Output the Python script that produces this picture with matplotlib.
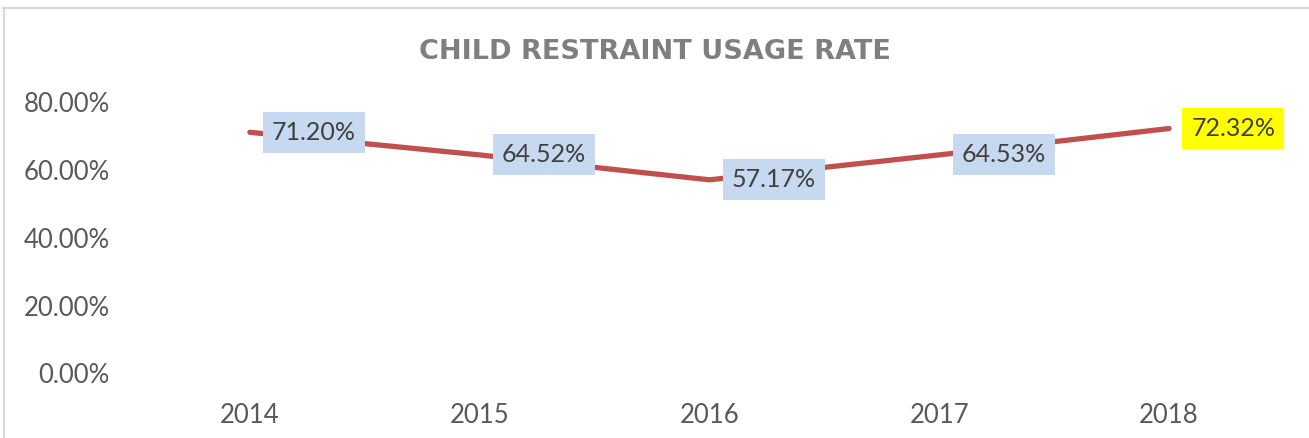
import matplotlib
matplotlib.use("Agg")
import matplotlib.pyplot as plt
from matplotlib.lines import Line2D
from matplotlib.ticker import FuncFormatter

# chart data
years = ["2014", "2015", "2016", "2017", "2018"]
usage_rate = [71.20, 64.52, 57.17, 64.53, 72.32]
label_colors = ["#C6D9F1", "#C6D9F1", "#C6D9F1", "#C6D9F1", "#FFFF00"]
y_ticks = [0, 20, 40, 60, 80]

TITLE = "CHILD RESTRAINT USAGE RATE"


def pct(v, pos=None):
    return "{:.2f}%".format(v)


fig = plt.figure(figsize=(13.09, 4.38), dpi=100)
ax = fig.add_axes([0.1031, 0.1473, 0.8778, 0.6187])

x = list(range(len(years)))
ax.plot(x, usage_rate, color="#C0504D", linewidth=3.8, solid_capstyle="round")

# data labels sit to the right of each point
for i, v in enumerate(usage_rate):
    ax.annotate(pct(v), xy=(x[i], v), xytext=(16, 0), textcoords="offset points",
                ha="left", va="center", fontsize=18, family="Lato", color="#404040",
                bbox=dict(boxstyle="square,pad=0.36", fc=label_colors[i], ec="none"))

ax.set_xlim(-0.5, len(years) - 0.5)
ax.set_ylim(0, 80)
ax.set_xticks(x)
ax.set_xticklabels(years)
ax.set_yticks(y_ticks)
ax.yaxis.set_major_formatter(FuncFormatter(pct))
ax.tick_params(axis="both", length=0, labelsize=18.5, labelcolor="#595959")
ax.tick_params(axis="y", pad=18)
ax.tick_params(axis="x", pad=21)
for lbl in ax.get_xticklabels() + ax.get_yticklabels():
    lbl.set_family("Lato")
for s in ax.spines.values():
    s.set_visible(False)

fig.text(0.5, 0.882, TITLE, ha="center", va="center", fontsize=19.5,
         fontweight="bold", family="DejaVu Sans", color="#7F7F7F")

# chart frame: only top and left edges show in the crop
fig.add_artist(Line2D([0.002, 1.0], [0.981, 0.981], transform=fig.transFigure,
                      color="#D9D9D9", linewidth=1.6))
fig.add_artist(Line2D([0.003, 0.003], [0.0, 0.981], transform=fig.transFigure,
                      color="#D9D9D9", linewidth=1.6))

fig.savefig("out.png", dpi=100, facecolor="white")
